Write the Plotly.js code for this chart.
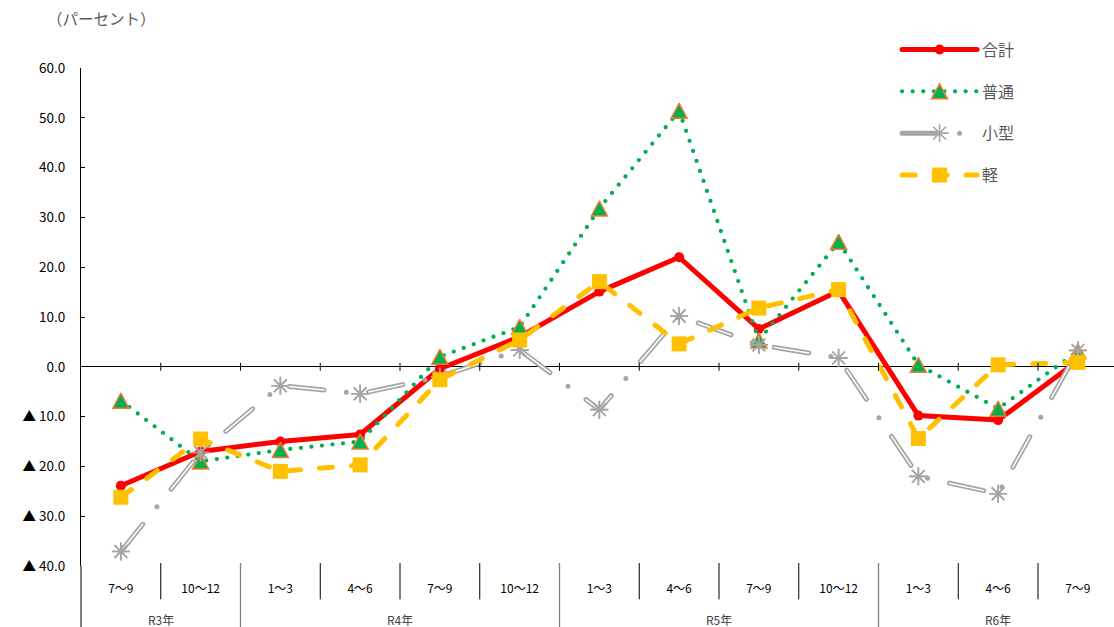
<!DOCTYPE html>
<html>
<head>
<meta charset="utf-8">
<script src="https://cdn.plot.ly/plotly-3.0.1.min.js"></script>
<style>
  html, body { margin: 0; padding: 0; background: #fff; }
  #chart { width: 1114px; height: 627px; }
  /* rounded caps for every series line, so dotted patterns draw as round dots */
  #chart .js-line { stroke-linecap: round !important; stroke-linejoin: round !important; }
</style>
</head>
<body>
<div id="chart"></div>
<script>
// Quarter labels (inner level) and fiscal-year groups (outer level)
const quarters = ['7～9', '10～12', '1～3', '4～6', '7～9', '10～12', '1～3', '4～6', '7～9', '10～12', '1～3', '4～6', '7～9'];
const years = ['R3年', 'R4年', 'R5年', 'R6年'];
const yearSpans = [2, 4, 4, 3];

// Year-on-year change (%) by vehicle class
const total  = [-23.9, -17.0, -15.0, -13.6, -0.4, 6.0, 15.1, 22.0, 7.6, 15.2, -9.8, -10.7, 1.2];
const futsu  = [-6.8, -19.0, -16.7, -15.0, 2.0, 8.0, 31.8, 51.4, 5.3, 25.1, 0.4, -8.4, 3.1];
const kogata = [-37.1, -17.2, -3.8, -5.4, -2.0, 3.4, -8.6, 10.2, 4.4, 1.8, -22.0, -25.5, 3.3];
const kei    = [-26.2, -14.5, -21.0, -19.7, -2.6, 5.4, 17.1, 4.6, 11.8, 15.5, -14.4, 0.4, 0.9];

const seriesNames = ['合計', '普通', '小型', '軽'];

// Value axis ticks: negatives are written with a leading ▲
const yTickVals = [60, 50, 40, 30, 20, 10, 0, -10, -20, -30, -40];
const yTickText = yTickVals.map(v => (v < 0 ? '▲ ' : '') + Math.abs(v).toFixed(1));

const FONT = "'Noto Sans CJK JP', 'Noto Sans', sans-serif";
const idx = quarters.map((_, i) => i);

const traces = [
  {
    x: idx, y: total, name: seriesNames[0], legendgroup: 'g0',
    mode: 'lines+markers', type: 'scatter',
    line: { color: '#FF0000', width: 5 },
    marker: { symbol: 'circle', size: 10, color: '#FF0000' }
  },
  {
    x: idx, y: futsu, name: seriesNames[1], legendgroup: 'g1',
    mode: 'lines+markers', type: 'scatter',
    line: { color: '#00B050', width: 4.3, dash: '0px,10.6px' },
    marker: { symbol: 'triangle-up', size: 15, color: '#00B050', line: { color: '#ED7D31', width: 1.5 } }
  },
  {
    // outer grey stroke of the double line, carries the legend entry
    x: idx, y: kogata, name: seriesNames[2], legendgroup: 'g2',
    mode: 'lines+markers', type: 'scatter',
    line: { color: '#A5A5A5', width: 5, dash: '35px,22.5px,0px,22.5px' },
    marker: { symbol: 'asterisk-open', size: 15, color: '#A5A5A5', line: { color: '#A5A5A5', width: 1.6 } }
  },
  {
    // white core of the double line
    x: idx, y: kogata, name: seriesNames[2] + ' core', legendgroup: 'g2', showlegend: false, hoverinfo: 'skip',
    mode: 'lines', type: 'scatter',
    line: { color: '#FFFFFF', width: 1.5, dash: '35px,45px' }
  },
  {
    // markers redrawn above the white core
    x: idx, y: kogata, name: seriesNames[2], legendgroup: 'g2', showlegend: false,
    mode: 'markers', type: 'scatter',
    marker: { symbol: 'asterisk-open', size: 15, color: '#A5A5A5', line: { color: '#A5A5A5', width: 1.6 } }
  },
  {
    x: idx, y: kei, name: seriesNames[3], legendgroup: 'g3',
    mode: 'lines+markers', type: 'scatter',
    line: { color: '#FFC000', width: 5, dash: '13px,19px' },
    marker: { symbol: 'square', size: 15, color: '#FFC000' }
  }
];

// Category boundaries: short dividers between quarters, long ones between years
const yearEnds = [];
yearSpans.reduce((acc, n) => { acc += n; yearEnds.push(acc); return acc; }, 0);
const shapes = [];
const lineBlack = { color: '#000000', width: 1 };
for (let i = 0; i < quarters.length - 1; i++) {
  const b = i + 0.5;
  // tick crossing the zero line
  shapes.push({ type: 'line', xref: 'x', yref: 'y', x0: b, x1: b, y0: -0.8, y1: 0.8, line: lineBlack });
  const isYear = yearEnds.includes(i + 1);
  shapes.push({
    type: 'line', xref: 'x', yref: 'paper', x0: b, x1: b,
    y0: 0.006, y1: isYear ? -0.125 : -0.067,
    line: isYear ? { color: '#808080', width: 1.3 } : lineBlack
  });
}
// value axis continues down through the label rows
shapes.push({ type: 'line', xref: 'paper', yref: 'paper', x0: 0, x1: 0, y0: 0, y1: -0.125, line: lineBlack });

// Year labels centred over their quarters
const annotations = [];
let start = 0;
years.forEach((yl, k) => {
  const centre = start + (yearSpans[k] - 1) / 2;
  annotations.push({
    text: yl, xref: 'x', yref: 'paper', x: centre, y: -0.107,
    xanchor: 'center', yanchor: 'middle', showarrow: false,
    font: { family: FONT, size: 12, color: '#404040' }
  });
  start += yearSpans[k];
});
annotations.push({
  text: '（パーセント）', xref: 'paper', yref: 'paper', x: 0.02, y: 1.1,
  xanchor: 'center', yanchor: 'middle', showarrow: false,
  font: { family: FONT, size: 15.5, color: '#595959' }
});

const layout = {
  width: 1114, height: 627,
  margin: { l: 81, r: 0, t: 68, b: 61, pad: 0 },
  paper_bgcolor: '#FFFFFF', plot_bgcolor: '#FFFFFF',
  font: { family: FONT, size: 13, color: '#000000' },
  showlegend: true,
  legend: {
    x: 0.79, y: 1.071, xanchor: 'left', yanchor: 'top',
    traceorder: 'grouped', tracegroupgap: 18, itemwidth: 75,
    font: { family: FONT, size: 16, color: '#595959' },
    bgcolor: 'rgba(0,0,0,0)'
  },
  xaxis: {
    type: 'linear', range: [-0.5, 12.453], fixedrange: true,
    tickmode: 'array', tickvals: idx, ticktext: quarters,
    ticks: '', showgrid: false, zeroline: false, showline: false,
    ticklabelstandoff: 14,
    tickfont: { family: FONT, size: 12, color: '#000000' }
  },
  yaxis: {
    range: [-40, 60], fixedrange: true,
    tickmode: 'array', tickvals: yTickVals, ticktext: yTickText,
    ticks: 'inside', ticklen: 4, tickcolor: '#000000', tickwidth: 1,
    showline: true, linecolor: '#000000', linewidth: 1,
    showgrid: false, zeroline: true, zerolinecolor: '#000000', zerolinewidth: 1,
    ticklabelstandoff: 12,
    tickfont: { family: FONT, size: 13.5, color: '#000000' }
  },
  shapes: shapes,
  annotations: annotations
};

// Taller, near-equilateral triangle outline for the 普通 markers (centred on the point)
const TRIANGLE = 'M-8,7.5H8L0,-7.5Z';
function reshapeTriangles(gd) {
  const layers = gd.querySelectorAll('.scatterlayer .trace');
  if (layers[1]) layers[1].querySelectorAll('path.point').forEach(p => p.setAttribute('d', TRIANGLE));
  const items = gd.querySelectorAll('.legend .traces');
  items.forEach(it => {
    const label = it.querySelector('.legendtext');
    if (label && label.textContent === seriesNames[1]) {
      it.querySelectorAll('.legendpoints path.scatterpts').forEach(p => p.setAttribute('d', TRIANGLE));
    }
  });
}

Plotly.newPlot('chart', traces, layout, { displayModeBar: false, staticPlot: true })
  .then(gd => reshapeTriangles(gd));
</script>
</body>
</html>
